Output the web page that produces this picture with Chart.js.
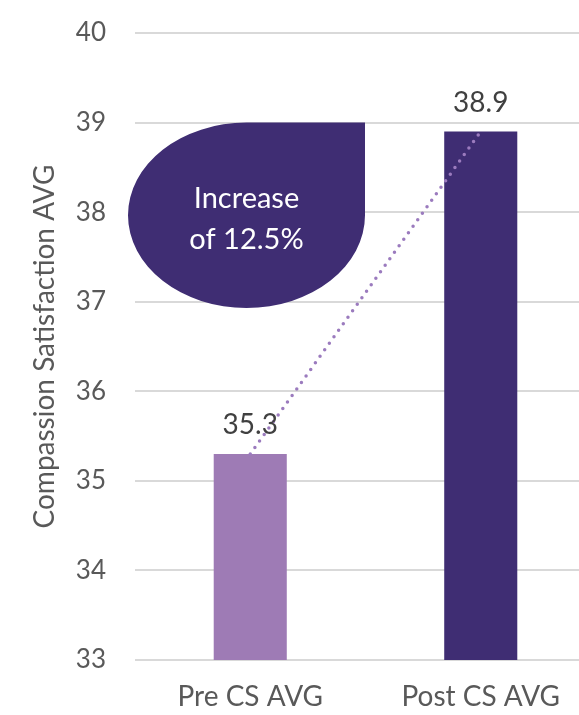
<!DOCTYPE html>
<html>
<head>
<meta charset="utf-8">
<script src="https://cdn.jsdelivr.net/npm/chart.js@4/dist/chart.umd.min.js"></script>
<style>
  html, body { margin: 0; padding: 0; background: #fff; overflow: hidden; }
  #wrap { width: 596px; height: 715px; }
</style>
</head>
<body>
<div id="wrap"><canvas id="c" width="596" height="715"></canvas></div>
<script>
// Average compassion satisfaction score before and after the CS programme
const categories = ['Pre CS AVG', 'Post CS AVG'];
const avgScores = [35.3, 38.9];
const barColors = ['#9E7BB5', '#3F2D73'];
const yTicks = [33, 34, 35, 36, 37, 38, 39, 40];
const calloutLines = ['Increase', 'of 12.5%'];

const FONT = 'Lato, "Open Sans", sans-serif';
const GREY = '#595959';

// Speech-drop callout with a square top-right corner
const calloutPlugin = {
  id: 'callout',
  beforeDatasetsDraw(chart) {
    const { ctx, chartArea, scales } = chart;
    const top = scales.y.getPixelForValue(39);
    const bottom = scales.y.getPixelForValue(36.93);
    const left = chartArea.left - 7;
    const right = left + 237;
    const cx = (left + right) / 2, cy = (top + bottom) / 2;
    const rx = (right - left) / 2, ry = (bottom - top) / 2;
    ctx.save();
    ctx.beginPath();
    ctx.moveTo(cx, top);
    ctx.lineTo(right, top);
    ctx.lineTo(right, cy);
    ctx.ellipse(cx, cy, rx, ry, 0, 0, 1.5 * Math.PI);
    ctx.closePath();
    ctx.fillStyle = '#3F2D73';
    ctx.fill();
    ctx.fillStyle = '#ffffff';
    ctx.font = '29px ' + FONT;
    ctx.textAlign = 'center';
    ctx.textBaseline = 'middle';
    ctx.fillText(calloutLines[0], cx, cy - 17);
    ctx.fillText(calloutLines[1], cx, cy + 24);
    ctx.restore();
  }
};

// Value labels above each bar
const valueLabelPlugin = {
  id: 'valueLabels',
  afterDatasetsDraw(chart) {
    const { ctx } = chart;
    const meta = chart.getDatasetMeta(0);
    ctx.save();
    ctx.fillStyle = '#404040';
    ctx.font = '28px ' + FONT;
    ctx.textAlign = 'center';
    ctx.textBaseline = 'alphabetic';
    meta.data.forEach((bar, i) => {
      ctx.fillText(avgScores[i].toFixed(1), bar.x, bar.y - 20);
    });
    ctx.restore();
  }
};

new Chart(document.getElementById('c'), {
  data: {
    labels: categories,
    datasets: [
      {
        type: 'line',
        data: avgScores,
        borderColor: '#9B7BBE',
        borderWidth: 3.5,
        borderDash: [0, 8],
        borderCapStyle: 'round',
        pointRadius: 0,
        fill: false,
        order: 0
      },
      {
        type: 'bar',
        data: avgScores,
        backgroundColor: barColors,
        barPercentage: 0.317,
        categoryPercentage: 1,
        order: 1
      }
    ]
  },
  plugins: [calloutPlugin, valueLabelPlugin],
  options: {
    responsive: false,
    animation: false,
    layout: { padding: 0 },
    plugins: { legend: { display: false }, tooltip: { enabled: false } },
    scales: {
      y: {
        min: 33,
        max: 40,
        afterBuildTicks(scale) { scale.ticks = yTicks.map(v => ({ value: v })); },
        afterFit(scale) {
          scale.width = 135;
          scale.paddingTop = 33;
          scale.paddingBottom = 20;
        },
        grid: { color: '#d9d9d9', lineWidth: 2, drawTicks: false },
        border: { display: false },
        ticks: { color: GREY, font: { family: FONT, size: 26 }, padding: 29 },
        title: {
          display: true,
          text: 'Compassion Satisfaction AVG',
          color: GREY,
          font: { family: FONT, size: 28 },
          padding: { top: 28, bottom: 0 }
        }
      },
      x: {
        afterFit(scale) { scale.height = 55; },
        grid: { display: false, drawTicks: false },
        border: { display: false },
        ticks: { color: GREY, font: { family: FONT, size: 28 }, padding: 20 }
      }
    }
  }
});
</script>
</body>
</html>
